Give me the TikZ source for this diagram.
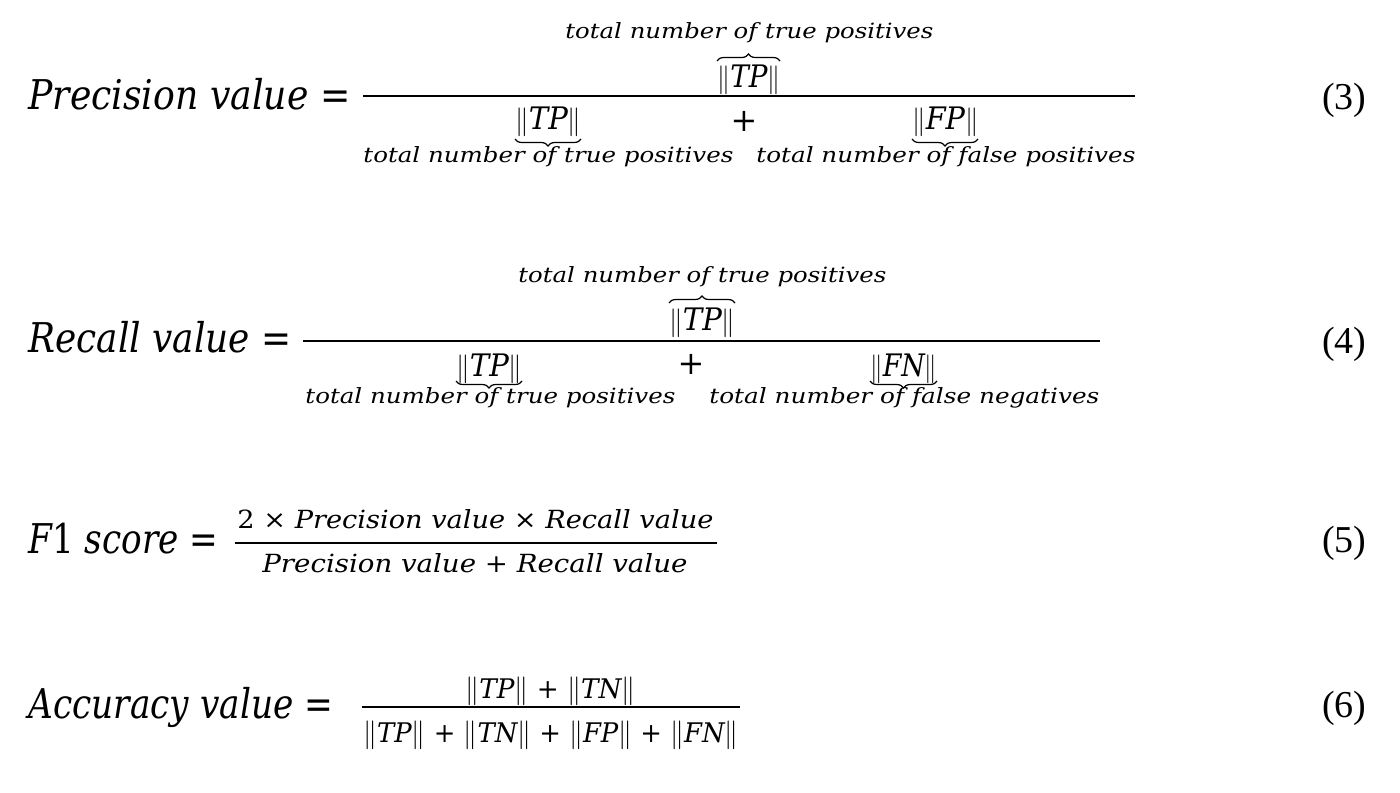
\documentclass[tikz,border=0pt]{standalone}
\usepackage{fontspec}
\usepackage{graphicx}
\setmainfont{DejaVu Serif}
\newfontfamily\numfont{Liberation Serif}
\usetikzlibrary{decorations.pathreplacing}
\newlength\pxu
\setlength\pxu{0.5pt}
\newcommand\fw[2]{\resizebox{#1\pxu}{\height}{#2}}
\newcommand\nrm[1]{$\Vert$\textit{#1}$\Vert$}
\tikzset{
  lhs/.style={font=\fontsize{20.5}{24}\selectfont\itshape, inner sep=0pt, anchor=base west},
  lbl/.style={font=\fontsize{10.5}{12}\selectfont\itshape, inner sep=0pt, anchor=base west},
  nrmb/.style={font=\fontsize{15.5}{18}\selectfont\itshape, inner sep=0pt, anchor=base west},
  plus/.style={font=\fontsize{16}{18}\selectfont, inner sep=0pt},
  frac5/.style={font=\fontsize{12.5}{14}\selectfont\itshape, inner sep=0pt, anchor=base west},
  frac6/.style={font=\fontsize{13.5}{16}\selectfont\itshape, inner sep=0pt, anchor=base west},
  eqno/.style={font=\fontsize{19}{22}\selectfont\numfont, inner sep=0pt, anchor=base east},
  fracline/.style={line width=1.3pt},
  brc/.style={decorate, decoration={brace, amplitude=3.5pt}, line width=0.6pt},
}
\begin{document}
\begin{tikzpicture}[x=0.5pt, y=-0.5pt]
\fill[white] (0,0) rectangle (1400,792);
% ---------- Equation 3 ----------
\node[lhs] (l3) at (28,110) {\fw{322}{Precision value {\upshape =}}};
\draw[fracline] (363,96) coordinate (f3a) -- (1135,96) coordinate (f3b);
\node[lbl] (t3) at (565,39) {\fw{368}{total number of true positives}};
\node[nrmb] (n3) at (717,88) {\fw{63}{\nrm{TP}}};
\draw[brc] (717,61) -- (780,61);
\node[nrmb] (d3a) at (515,130) {\fw{66}{\nrm{TP}}};
\draw[brc] (581,139) -- (515,139);
\node[lbl] (b3a) at (363,162) {\fw{370}{total number of true positives}};
\node[plus] (p3) at (744,121) {+};
\node[nrmb] (d3b) at (912,130) {\fw{66}{\nrm{FP}}};
\draw[brc] (978,139) -- (912,139);
\node[lbl] (b3b) at (756,162) {\fw{379}{total number of false positives}};
\node[eqno] (e3) at (1367,110) {(3)};
% ---------- Equation 4 ----------
\node[lhs] (l4) at (28,352) {\fw{263}{Recall value {\upshape =}}};
\draw[fracline] (303,341) coordinate (f4a) -- (1100,341) coordinate (f4b);
\node[lbl] (t4) at (518,282) {\fw{368}{total number of true positives}};
\node[nrmb] (n4) at (669,330) {\fw{66}{\nrm{TP}}};
\draw[brc] (669,303) -- (735,303);
\node[nrmb] (d4a) at (456,376) {\fw{66}{\nrm{TP}}};
\draw[brc] (522,381) -- (456,381);
\node[lbl] (b4a) at (305,403) {\fw{370}{total number of true positives}};
\node[plus] (p4) at (691,364) {+};
\node[nrmb] (d4b) at (870,376) {\fw{67}{\nrm{FN}}};
\draw[brc] (937,381) -- (870,381);
\node[lbl] (b4b) at (709,403) {\fw{390}{total number of false negatives}};
\node[eqno] (e4) at (1367,353) {(4)};
% ---------- Equation 5 ----------
\node[lhs] (l5) at (28,553) {\fw{190}{F{\upshape 1} score {\upshape =}}};
\draw[fracline] (235,543) coordinate (f5a) -- (717,543) coordinate (f5b);
\node[frac5] (n5) at (237,528) {\fw{476}{{\upshape 2 × }Precision value {\upshape ×} Recall value}};
\node[frac5] (d5) at (262,572) {\fw{425}{Precision value {\upshape +} Recall value}};
\node[eqno] (e5) at (1367,552) {(5)};
% ---------- Equation 6 ----------
\node[lhs] (l6) at (28,718) {\fw{305}{Accuracy value {\upshape =}}};
\draw[fracline] (362,707) coordinate (f6a) -- (740,707) coordinate (f6b);
\node[frac6] (n6) at (465,698) {\fw{170}{\nrm{TP} {\upshape +} \nrm{TN}}};
\node[frac6] (d6) at (363,742) {\fw{375}{\nrm{TP} {\upshape +} \nrm{TN} {\upshape +} \nrm{FP} {\upshape +} \nrm{FN}}};
\node[eqno] (e6) at (1367,717) {(6)};
\end{tikzpicture}
\end{document}
